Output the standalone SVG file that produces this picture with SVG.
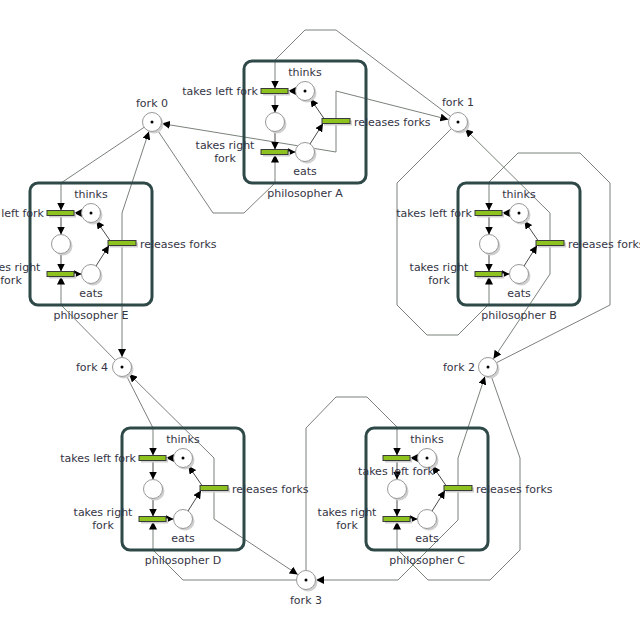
<svg xmlns="http://www.w3.org/2000/svg" width="640" height="619" viewBox="0 0 640 619">
<defs>
<marker id="ah" viewBox="0 0 10 10" refX="10" refY="5" markerWidth="8" markerHeight="8" markerUnits="userSpaceOnUse" orient="auto">
<path d="M0,0 L10,5 L0,10 z" fill="#000"/>
</marker>
</defs>
<style>
.box{fill:none;stroke:#2f4848;stroke-width:3}
.arc{fill:none;stroke:#7a827a;stroke-width:1;marker-end:url(#ah)}
.iarc{fill:none;stroke:#4a4a4a;stroke-width:1;marker-end:url(#ah)}
.pl{fill:#fff;stroke:#999;stroke-width:1}
.sh{fill:#d0d0d0}
.tr{fill:#8dc21f;stroke:#3a3a3a;stroke-width:1}
.tk{fill:#000}
text{font-family:"DejaVu Sans",Verdana,sans-serif;font-size:11px;fill:#353545}
.m{text-anchor:middle}
.e{text-anchor:end}
</style>
<rect width="640" height="619" fill="#fff"/>

<g id="connectors">
  <!-- philosopher A -->
  <path class="arc" d="M458,122 L336,30 L305,30 L275,60 L275,88.5"/>
  <path class="arc" d="M152,122 L213,213 L244,213 L275,183 L275,154.5"/>
  <path class="arc" d="M336,121 L336,91 L448.3,119.5"/>
  <path class="arc" d="M336,121 L336,152 L161.9,123.6"/>
  <!-- philosopher E -->
  <path class="arc" d="M152,122 L61,183 L61,210.5"/>
  <path class="arc" d="M122,367 L61,305 L61,276.5"/>
  <path class="arc" d="M122,243 L122,357"/>
  <path class="arc" d="M122,243 L122,213 L148.9,131.5"/>
  <!-- philosopher D -->
  <path class="arc" d="M122,367 L153,428 L153,455.5"/>
  <path class="arc" d="M306,580 L183,580 L153,550 L153,521.5"/>
  <path class="arc" d="M214,488 L214,519 L297.7,574.5"/>
  <path class="arc" d="M214,488 L214,458 L129.1,374"/>
  <!-- philosopher C -->
  <path class="arc" d="M306,580 L306,428 L336,397 L367,397 L397,427 L397,455.5"/>
  <path class="arc" d="M488,367 L520,458 L520,550 L490,580 L428,580 L397,549 L397,521.5"/>
  <path class="arc" d="M458,488 L458,520 L398,580 L316,580"/>
  <path class="arc" d="M458,488 L458,458 L484.9,376.5"/>
  <!-- philosopher B -->
  <path class="arc" d="M488,367 L610,305 L610,183 L580,153 L518,153 L489,182 L489,210.5"/>
  <path class="arc" d="M458,122 L397,183 L397,305 L427,335 L458,335 L489,304 L489,276.5"/>
  <path class="arc" d="M550,243 L550,213 L465.1,129"/>
  <path class="arc" d="M550,243 L550,274 L493.5,358.7"/>
  <!-- internal arcs -->
  <g transform="translate(244,61)">
    <path class="iarc" d="M51.5,30 L44,30"/><path class="iarc" d="M31,32.5 L31,51.5"/><path class="iarc" d="M31,70.5 L31,88.5"/>
    <path class="iarc" d="M44,91 L51.5,91"/><path class="iarc" d="M66,83 L79,62.5"/><path class="iarc" d="M80,57.5 L66.4,37.8"/>
  </g>
  <g transform="translate(458,183)">
    <path class="iarc" d="M51.5,30 L44,30"/><path class="iarc" d="M31,32.5 L31,51.5"/><path class="iarc" d="M31,70.5 L31,88.5"/>
    <path class="iarc" d="M44,91 L51.5,91"/><path class="iarc" d="M66,83 L79,62.5"/><path class="iarc" d="M80,57.5 L66.4,37.8"/>
  </g>
  <g transform="translate(30,183)">
    <path class="iarc" d="M51.5,30 L44,30"/><path class="iarc" d="M31,32.5 L31,51.5"/><path class="iarc" d="M31,70.5 L31,88.5"/>
    <path class="iarc" d="M44,91 L51.5,91"/><path class="iarc" d="M66,83 L79,62.5"/><path class="iarc" d="M80,57.5 L66.4,37.8"/>
  </g>
  <g transform="translate(122,428)">
    <path class="iarc" d="M51.5,30 L44,30"/><path class="iarc" d="M31,32.5 L31,51.5"/><path class="iarc" d="M31,70.5 L31,88.5"/>
    <path class="iarc" d="M44,91 L51.5,91"/><path class="iarc" d="M66,83 L79,62.5"/><path class="iarc" d="M80,57.5 L66.4,37.8"/>
  </g>
  <g transform="translate(366,428)">
    <path class="iarc" d="M51.5,30 L44,30"/><path class="iarc" d="M31,32.5 L31,51.5"/><path class="iarc" d="M31,70.5 L31,88.5"/>
    <path class="iarc" d="M44,91 L51.5,91"/><path class="iarc" d="M66,83 L79,62.5"/><path class="iarc" d="M80,57.5 L66.4,37.8"/>
  </g>
</g>

<!-- forks -->
<g id="fork0"><circle class="sh" cx="154" cy="124" r="9.5"/><circle class="pl" cx="152" cy="122" r="9.5"/><circle class="tk" cx="152" cy="122" r="1.5"/><text class="m" x="152" y="107">fork 0</text></g>
<g id="fork1"><circle class="sh" cx="460" cy="124" r="9.5"/><circle class="pl" cx="458" cy="122" r="9.5"/><circle class="tk" cx="458" cy="122" r="1.5"/><text class="m" x="458" y="106">fork 1</text></g>
<g id="fork2"><circle class="sh" cx="490" cy="369" r="9.5"/><circle class="pl" cx="488" cy="367" r="9.5"/><circle class="tk" cx="488" cy="367" r="1.5"/><text class="e" x="475" y="371">fork 2</text></g>
<g id="fork3"><circle class="sh" cx="308" cy="582" r="9.5"/><circle class="pl" cx="306" cy="580" r="9.5"/><circle class="tk" cx="306" cy="580" r="1.5"/><text class="m" x="306" y="604">fork 3</text></g>
<g id="fork4"><circle class="sh" cx="124" cy="369" r="9.5"/><circle class="pl" cx="122" cy="367" r="9.5"/><circle class="tk" cx="122" cy="367" r="1.5"/><text class="e" x="108" y="371">fork 4</text></g>

<!-- philosopher A -->
<g id="philosopherA" transform="translate(244,61)">
  <rect class="box" x="0" y="0" width="122" height="122" rx="8"/>
  <g id="A-thinks"><circle class="sh" cx="63" cy="32" r="9.5"/><circle class="pl" cx="61" cy="30" r="9.5"/><circle class="tk" cx="61" cy="30" r="1.5"/><text class="m" x="61" y="15">thinks</text></g>
  <g id="A-hungry"><circle class="sh" cx="33" cy="63" r="9.5"/><circle class="pl" cx="31" cy="61" r="9.5"/></g>
  <g id="A-eats"><circle class="sh" cx="63" cy="93" r="9.5"/><circle class="pl" cx="61" cy="91" r="9.5"/><text class="m" x="61" y="114">eats</text></g>
  <g id="A-takesleft"><rect class="sh" x="19" y="29.5" width="27" height="5"/><rect class="tr" x="17" y="27.5" width="27" height="5"/><text class="e" x="14" y="34">takes left fork</text></g>
  <g id="A-takesright"><rect class="sh" x="19" y="90.5" width="27" height="5"/><rect class="tr" x="17" y="88.5" width="27" height="5"/><text class="m" x="-19" y="88">takes right</text><text class="m" x="-19" y="101">fork</text></g>
  <g id="A-releases"><rect class="sh" x="80" y="59.5" width="28" height="5"/><rect class="tr" x="78" y="57.5" width="28" height="5"/><text x="110" y="65">releases forks</text></g>
  <text class="m" x="61" y="136">philosopher A</text>
</g>

<!-- philosopher B -->
<g id="philosopherB" transform="translate(458,183)">
  <rect class="box" x="0" y="0" width="122" height="122" rx="8"/>
  <g id="B-thinks"><circle class="sh" cx="63" cy="32" r="9.5"/><circle class="pl" cx="61" cy="30" r="9.5"/><circle class="tk" cx="61" cy="30" r="1.5"/><text class="m" x="61" y="15">thinks</text></g>
  <g id="B-hungry"><circle class="sh" cx="33" cy="63" r="9.5"/><circle class="pl" cx="31" cy="61" r="9.5"/></g>
  <g id="B-eats"><circle class="sh" cx="63" cy="93" r="9.5"/><circle class="pl" cx="61" cy="91" r="9.5"/><text class="m" x="61" y="114">eats</text></g>
  <g id="B-takesleft"><rect class="sh" x="19" y="29.5" width="27" height="5"/><rect class="tr" x="17" y="27.5" width="27" height="5"/><text class="e" x="14" y="34">takes left fork</text></g>
  <g id="B-takesright"><rect class="sh" x="19" y="90.5" width="27" height="5"/><rect class="tr" x="17" y="88.5" width="27" height="5"/><text class="m" x="-19" y="88">takes right</text><text class="m" x="-19" y="101">fork</text></g>
  <g id="B-releases"><rect class="sh" x="80" y="59.5" width="28" height="5"/><rect class="tr" x="78" y="57.5" width="28" height="5"/><text x="110" y="65">releases forks</text></g>
  <text class="m" x="61" y="136">philosopher B</text>
</g>

<!-- philosopher C -->
<g id="philosopherC" transform="translate(366,428)">
  <rect class="box" x="0" y="0" width="122" height="122" rx="8"/>
  <g id="C-thinks"><circle class="sh" cx="63" cy="32" r="9.5"/><circle class="pl" cx="61" cy="30" r="9.5"/><circle class="tk" cx="61" cy="30" r="1.5"/><text class="m" x="61" y="15">thinks</text></g>
  <g id="C-hungry"><circle class="sh" cx="33" cy="63" r="9.5"/><circle class="pl" cx="31" cy="61" r="9.5"/></g>
  <g id="C-eats"><circle class="sh" cx="63" cy="93" r="9.5"/><circle class="pl" cx="61" cy="91" r="9.5"/><text class="m" x="61" y="114">eats</text></g>
  <g id="C-takesleft"><rect class="sh" x="19" y="29.5" width="27" height="5"/><rect class="tr" x="17" y="27.5" width="27" height="5"/><text class="m" x="30" y="47">takes left fork</text></g>
  <g id="C-takesright"><rect class="sh" x="19" y="90.5" width="27" height="5"/><rect class="tr" x="17" y="88.5" width="27" height="5"/><text class="m" x="-19" y="88">takes right</text><text class="m" x="-19" y="101">fork</text></g>
  <g id="C-releases"><rect class="sh" x="80" y="59.5" width="28" height="5"/><rect class="tr" x="78" y="57.5" width="28" height="5"/><text x="110" y="65">releases forks</text></g>
  <text class="m" x="61" y="136">philosopher C</text>
</g>

<!-- philosopher D -->
<g id="philosopherD" transform="translate(122,428)">
  <rect class="box" x="0" y="0" width="122" height="122" rx="8"/>
  <g id="D-thinks"><circle class="sh" cx="63" cy="32" r="9.5"/><circle class="pl" cx="61" cy="30" r="9.5"/><circle class="tk" cx="61" cy="30" r="1.5"/><text class="m" x="61" y="15">thinks</text></g>
  <g id="D-hungry"><circle class="sh" cx="33" cy="63" r="9.5"/><circle class="pl" cx="31" cy="61" r="9.5"/></g>
  <g id="D-eats"><circle class="sh" cx="63" cy="93" r="9.5"/><circle class="pl" cx="61" cy="91" r="9.5"/><text class="m" x="61" y="114">eats</text></g>
  <g id="D-takesleft"><rect class="sh" x="19" y="29.5" width="27" height="5"/><rect class="tr" x="17" y="27.5" width="27" height="5"/><text class="e" x="14" y="34">takes left fork</text></g>
  <g id="D-takesright"><rect class="sh" x="19" y="90.5" width="27" height="5"/><rect class="tr" x="17" y="88.5" width="27" height="5"/><text class="m" x="-19" y="88">takes right</text><text class="m" x="-19" y="101">fork</text></g>
  <g id="D-releases"><rect class="sh" x="80" y="59.5" width="28" height="5"/><rect class="tr" x="78" y="57.5" width="28" height="5"/><text x="110" y="65">releases forks</text></g>
  <text class="m" x="61" y="136">philosopher D</text>
</g>

<!-- philosopher E -->
<g id="philosopherE" transform="translate(30,183)">
  <rect class="box" x="0" y="0" width="122" height="122" rx="8"/>
  <g id="E-thinks"><circle class="sh" cx="63" cy="32" r="9.5"/><circle class="pl" cx="61" cy="30" r="9.5"/><circle class="tk" cx="61" cy="30" r="1.5"/><text class="m" x="61" y="15">thinks</text></g>
  <g id="E-hungry"><circle class="sh" cx="33" cy="63" r="9.5"/><circle class="pl" cx="31" cy="61" r="9.5"/></g>
  <g id="E-eats"><circle class="sh" cx="63" cy="93" r="9.5"/><circle class="pl" cx="61" cy="91" r="9.5"/><text class="m" x="61" y="114">eats</text></g>
  <g id="E-takesleft"><rect class="sh" x="19" y="29.5" width="27" height="5"/><rect class="tr" x="17" y="27.5" width="27" height="5"/><text class="e" x="14" y="34">takes left fork</text></g>
  <g id="E-takesright"><rect class="sh" x="19" y="90.5" width="27" height="5"/><rect class="tr" x="17" y="88.5" width="27" height="5"/><text class="m" x="-19" y="88">takes right</text><text class="m" x="-19" y="101">fork</text></g>
  <g id="E-releases"><rect class="sh" x="80" y="59.5" width="28" height="5"/><rect class="tr" x="78" y="57.5" width="28" height="5"/><text x="110" y="65">releases forks</text></g>
  <text class="m" x="61" y="136">philosopher E</text>
</g>
</svg>
